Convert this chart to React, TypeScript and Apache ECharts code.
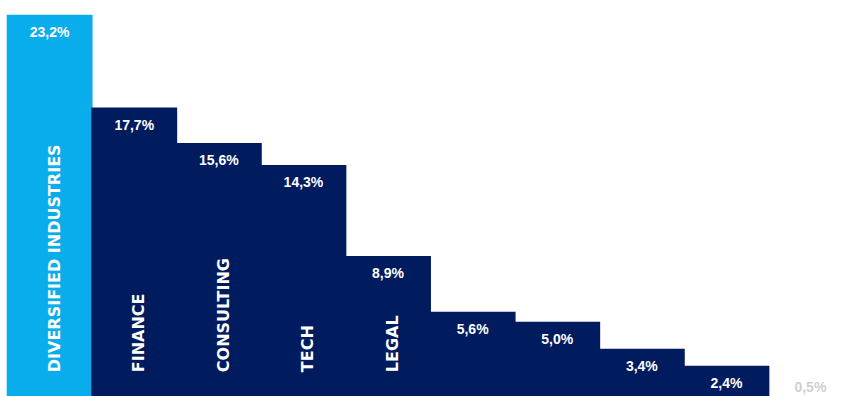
import React, { useEffect, useRef } from "react";
import * as echarts from "echarts";

const categories = [
  "DIVERSIFIED INDUSTRIES",
  "FINANCE",
  "CONSULTING",
  "TECH",
  "LEGAL",
  "",
  "",
  "",
  "",
  "",
];
const shares = [23.2, 17.7, 15.6, 14.3, 8.9, 5.6, 5.0, 3.4, 2.4, 0.5];

const LIGHT_BLUE = "#0AADEB";
const NAVY = "#001B5E";
const PALE = "#F6F6F6";

const fmt = (v: number) => v.toFixed(1).replace(".", ",") + "%";

export default function App() {
  const ref = useRef<HTMLDivElement>(null);

  useEffect(() => {
    if (!ref.current) return;
    const chart = echarts.init(ref.current, undefined, { renderer: "svg" });
    const n = shares.length;
    const barData = shares.map((v, i) => {
      const small = i === n - 1;
      const c = i === 0 ? LIGHT_BLUE : small ? PALE : NAVY;
      return {
        value: v,
        itemStyle: { color: c },
        label: small
          ? { position: "top", distance: 4, color: "#d0d0d0" }
          : undefined,
      };
    });
    chart.setOption({
      animation: false,
      grid: { left: 6.7, top: 1.2, width: 846, height: 405, containLabel: false },
      xAxis: {
        type: "category",
        data: categories,
        show: false,
      },
      yAxis: { type: "value", min: 0, max: 24, show: false },
      series: [
        {
          type: "bar",
          data: barData,
          barWidth: "101.5%",
          barGap: "-100%",
          barCategoryGap: 0,
          label: {
            show: true,
            position: "insideTop",
            distance: 10,
            color: "#ffffff",
            fontFamily: "Liberation Sans, Arial, sans-serif",
            fontWeight: "bold",
            fontSize: 14,
            formatter: (p: any) => fmt(p.value),
          },
        },
        {
          type: "bar",
          data: shares,
          barWidth: "100%",
          barGap: "-100%",
          itemStyle: { color: "rgba(0,0,0,0)" },
          silent: true,
          z: 5,
          label: {
            show: true,
            position: "insideBottom",
            distance: 34,
            rotate: 90,
            align: "left",
            verticalAlign: "middle",
            offset: [0, 5],
            color: "#ffffff",
            fontFamily: "DejaVu Sans, sans-serif",
            fontWeight: "bold",
            fontSize: 16,
            formatter: (p: any) => categories[p.dataIndex],
          },
        },
      ],
    });
    return () => chart.dispose();
  }, []);

  return (
    <div
      style={{
        position: "fixed",
        left: 0,
        top: 0,
        width: 842,
        height: 396,
        overflow: "hidden",
        background: "#ffffff",
      }}
    >
      <div ref={ref} style={{ width: 900, height: 430 }} />
    </div>
  );
}
